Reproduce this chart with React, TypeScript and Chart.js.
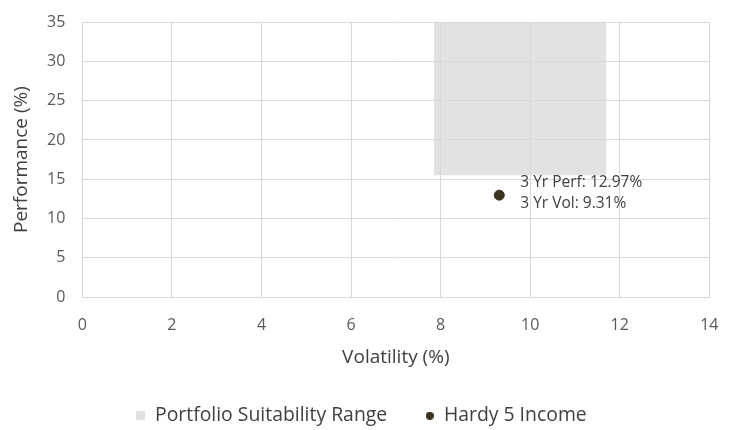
import React, { useEffect, useRef } from "react";
import { Chart, registerables } from "chart.js";

Chart.register(...registerables);

const rangeLabel = "Portfolio Suitability Range";
const rangeVolatility = [7.85, 11.7];
const rangeFloor = [15.5, 15.5];

const fundLabel = "Hardy 5 Income";
const fundVolatility = [9.31];
const fundPerformance = [12.97];
const fundNotes = ["3 Yr Perf: 12.97%", "3 Yr Vol: 9.31%"];

const xTitle = "Volatility (%)";
const yTitle = "Performance (%)";

const FONT = "'Open Sans', 'Noto Sans', sans-serif";
const RANGE_COLOR = "#e2e2e2";
const FUND_COLOR = "#3b3220";

function makeMarker(kind: "rect" | "circle", size: number, color: string) {
  const c = document.createElement("canvas");
  c.width = size;
  c.height = size;
  const ctx = c.getContext("2d")!;
  ctx.fillStyle = color;
  if (kind === "rect") ctx.fillRect(0, 0, size, size);
  else {
    ctx.beginPath();
    ctx.arc(size / 2, size / 2, size / 2, 0, Math.PI * 2);
    ctx.fill();
  }
  return c;
}

const notePlugin = {
  id: "fundNote",
  afterDraw(chart: any) {
    const meta = chart.getDatasetMeta(1);
    if (!meta || !meta.data.length) return;
    const pt = meta.data[0];
    const ctx = chart.ctx;
    ctx.save();
    ctx.font = `15.5px ${FONT}`;
    ctx.fillStyle = "#404040";
    ctx.textAlign = "left";
    ctx.textBaseline = "middle";
    fundNotes.forEach((t, i) => {
      ctx.fillText(t, pt.x + 21, pt.y - 13 + i * 21);
    });
    ctx.restore();
  },
};

export default function App() {
  const ref = useRef<HTMLCanvasElement>(null);
  useEffect(() => {
    if (!ref.current) return;
    const markers = [makeMarker("rect", 9, RANGE_COLOR), makeMarker("circle", 8, FUND_COLOR)];
    const chart = new Chart(ref.current, {
      type: "scatter",
      data: {
        datasets: [
          {
            type: "line",
            label: rangeLabel,
            data: rangeVolatility.map((x, i) => ({ x, y: rangeFloor[i] })),
            backgroundColor: RANGE_COLOR,
            borderColor: RANGE_COLOR,
            borderWidth: 0,
            pointRadius: 0,
            fill: "end",
            order: 2,
          } as any,
          {
            label: fundLabel,
            data: fundVolatility.map((x, i) => ({ x, y: fundPerformance[i] })),
            backgroundColor: FUND_COLOR,
            borderColor: FUND_COLOR,
            pointRadius: 5,
            pointHoverRadius: 5,
            pointStyle: "circle",
            order: 1,
          },
        ],
      },
      options: {
        animation: false,
        responsive: false,
        layout: { padding: { top: 10, right: 10, left: 0, bottom: -5.5 } },
        plugins: {
          tooltip: { enabled: false },
          legend: {
            position: "bottom",
            labels: {
              usePointStyle: true,
              boxWidth: 9,
              boxHeight: 9,
              padding: 38,
              color: "#404040",
              font: { family: FONT, size: 19.4, lineHeight: 1 },
              generateLabels: (ch: any) =>
                ch.data.datasets.map((ds: any, i: number) => ({
                  text: ds.label,
                  fillStyle: ds.backgroundColor,
                  strokeStyle: ds.backgroundColor,
                  lineWidth: 0,
                  pointStyle: markers[i],
                  hidden: !ch.isDatasetVisible(i),
                  datasetIndex: i,
                  fontColor: "#404040",
                })),
            },
          },
        },
        scales: {
          x: {
            type: "linear",
            min: 0,
            max: 14,
            ticks: { stepSize: 2, color: "#595959", font: { family: FONT, size: 16, lineHeight: 1.75 }, padding: 14.5 },
            grid: { color: "#d9d9d9", drawTicks: false, tickLength: 0, z: 1 } as any,
            border: { color: "#d0d0d0", z: 1 } as any,
            title: { display: true, text: xTitle, color: "#404040", font: { family: FONT, size: 19, lineHeight: 1 }, padding: { top: -5.5, bottom: 0.6 } },
          },
          y: {
            type: "linear",
            min: 0,
            max: 35,
            ticks: { stepSize: 5, color: "#595959", font: { family: FONT, size: 16, lineHeight: 0.65 }, padding: 17 },
            grid: { color: "#d9d9d9", drawTicks: false, tickLength: 0, z: 1 } as any,
            border: { color: "#d9d9d9", z: 1 } as any,
            title: { display: true, text: yTitle, color: "#404040", font: { family: FONT, size: 19 }, padding: { top: 10.6, bottom: -3.4 } },
          },
        },
      },
      plugins: [notePlugin],
    });
    return () => chart.destroy();
  }, []);
  return (
    <div style={{ position: "fixed", left: 0, top: 0, width: 733, height: 430, background: "#fff" }}>
      <canvas ref={ref} width={733} height={430} />
    </div>
  );
}
